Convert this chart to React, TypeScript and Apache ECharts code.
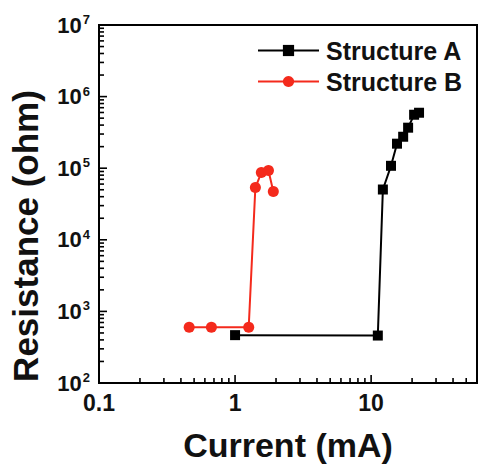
import React, { useEffect, useRef } from "react";
import * as echarts from "echarts";

// Structure A: current (mA) and resistance (ohm)
const currentA = [1.0, 11.2, 12.2, 14.0, 15.5, 17.2, 18.7, 20.7, 22.5];
const resistanceA = [466, 460, 50400, 108000, 220000, 275000, 368000, 558000, 595000];

// Structure B: current (mA) and resistance (ohm)
const currentB = [0.46, 0.67, 1.26, 1.41, 1.56, 1.76, 1.91];
const resistanceB = [600, 600, 600, 53700, 87000, 92600, 47200];

const seriesNames = ["Structure A", "Structure B"];

// Axis ranges and tick positions (log scales)
const X_MIN = 0.1;
const X_MAX = 60;
const Y_MIN = 100;
const Y_MAX = 1e7;
const xDecades = [0.1, 1, 10];
const yDecades = [100, 1000, 10000, 100000, 1000000];
const minorSteps = [2, 3, 4, 5, 6, 7, 8, 9];

const FONT = "'Liberation Sans', Arial, Helvetica, sans-serif";

function isDecade(v: number) {
  const l = Math.log10(v);
  return Math.abs(l - Math.round(l)) < 1e-6;
}

function buildXTicks() {
  const out: number[][] = [];
  xDecades.forEach((d) => {
    out.push([d, 1, Y_MIN]);
    minorSteps.forEach((m) => {
      const v = d * m;
      if (v < X_MAX) out.push([v, 0, Y_MIN]);
    });
  });
  return out;
}

function buildYTicks() {
  const out: number[][] = [];
  yDecades.forEach((d) => {
    out.push([X_MIN, d, 1]);
    minorSteps.forEach((m) => out.push([X_MIN, d * m, 0]));
  });
  out.push([X_MIN, Y_MAX, 1]);
  return out;
}

export default function App() {
  const ref = useRef<HTMLDivElement>(null);

  useEffect(() => {
    if (!ref.current) return;
    const chart = echarts.init(ref.current, undefined, { renderer: "svg" });

    const option: echarts.EChartsOption = {
      animation: false,
      backgroundColor: "#ffffff",
      grid: {
        left: 99,
        top: 25,
        right: 5,
        bottom: 83,
        show: true,
        borderColor: "#000",
        borderWidth: 2,
        backgroundColor: "transparent",
      },
      legend: {
        data: seriesNames,
        orient: "vertical",
        left: 257,
        top: 38,
        padding: 0,
        itemWidth: 61,
        itemHeight: 14,
        itemGap: 6,
        textStyle: {
          fontFamily: FONT,
          fontSize: 25,
          fontWeight: "bold",
          color: "#111",
          padding: [0, 0, 0, 2],
        },
      },
      xAxis: {
        type: "log",
        logBase: 10,
        min: X_MIN,
        max: X_MAX,
        name: "Current (mA)",
        nameLocation: "middle",
        nameGap: 45,
        nameTextStyle: {
          fontFamily: FONT,
          fontSize: 34,
          fontWeight: "bold",
          color: "#111",
        },
        axisLine: { show: true, lineStyle: { color: "#000", width: 2 } },
        axisTick: { show: false },
        splitLine: { show: false },
        minorTick: { show: false },
        axisLabel: {
          margin: 8,
          fontFamily: FONT,
          fontSize: 23,
          fontWeight: "bold",
          color: "#111",
          showMaxLabel: false,
          formatter: (v: number) => {
            if (!isDecade(v)) return "";
            return v < 1 ? String(Math.round(v * 10) / 10) : String(Math.round(v));
          },
        },
      },
      yAxis: {
        type: "log",
        logBase: 10,
        min: Y_MIN,
        max: Y_MAX,
        axisLine: { show: true, lineStyle: { color: "#000", width: 2 } },
        axisTick: { show: false },
        splitLine: { show: false },
        minorTick: { show: false },
        axisLabel: {
          margin: 9,
          formatter: (v: number) => {
            if (!isDecade(v)) return "";
            return `{b|10}{s|${Math.round(Math.log10(v))}}`;
          },
          rich: {
            b: {
              fontFamily: FONT,
              fontSize: 22,
              fontWeight: "bold",
              color: "#111",
              lineHeight: 24,
            },
            s: {
              fontFamily: FONT,
              fontSize: 13,
              fontWeight: "bold",
              color: "#111",
              verticalAlign: "top",
              lineHeight: 24,
              padding: [0, 0, 0, 1],
            },
          },
        },
      },
      graphic: [
        {
          type: "text",
          x: 25,
          y: 236,
          rotation: Math.PI / 2,
          style: {
            text: "Resistance (ohm)",
            fontFamily: FONT,
            fontSize: 35,
            fontWeight: "bold",
            fill: "#111",
            align: "center",
            verticalAlign: "middle",
          },
        },
      ],
      series: [
        {
          name: "Structure A",
          type: "line",
          data: currentA.map((x, i) => [x, resistanceA[i]]),
          symbol: "rect",
          symbolSize: 10,
          color: "#000",
          lineStyle: { color: "#000", width: 2 },
          itemStyle: { color: "#000" },
          z: 3,
        },
        {
          name: "Structure B",
          type: "line",
          data: currentB.map((x, i) => [x, resistanceB[i]]),
          symbol: "circle",
          symbolSize: 11,
          color: "#f42a1c",
          lineStyle: { color: "#f42a1c", width: 2 },
          itemStyle: { color: "#f42a1c" },
          z: 3,
        },
        {
          // inward ticks along the bottom axis
          type: "custom",
          silent: true,
          clip: false,
          data: buildXTicks(),
          encode: { x: 0, y: 2 },
          renderItem: (_params: any, api: any) => {
            const p = api.coord([api.value(0), Y_MIN]);
            const len = api.value(1) ? 8 : 5;
            return {
              type: "line",
              shape: { x1: p[0], y1: p[1], x2: p[0], y2: p[1] - len },
              style: { stroke: "#000", lineWidth: 1.6 },
            };
          },
          z: 4,
        },
        {
          // inward ticks along the left axis
          type: "custom",
          silent: true,
          clip: false,
          data: buildYTicks(),
          encode: { x: 0, y: 1 },
          renderItem: (_params: any, api: any) => {
            const p = api.coord([X_MIN, api.value(1)]);
            const len = api.value(2) ? 8 : 5;
            return {
              type: "line",
              shape: { x1: p[0], y1: p[1], x2: p[0] + len, y2: p[1] },
              style: { stroke: "#000", lineWidth: 1.6 },
            };
          },
          z: 4,
        },
      ],
    };

    chart.setOption(option);
    return () => chart.dispose();
  }, []);

  return (
    <div
      ref={ref}
      style={{ position: "fixed", left: 0, top: 0, width: 482, height: 467 }}
    />
  );
}
